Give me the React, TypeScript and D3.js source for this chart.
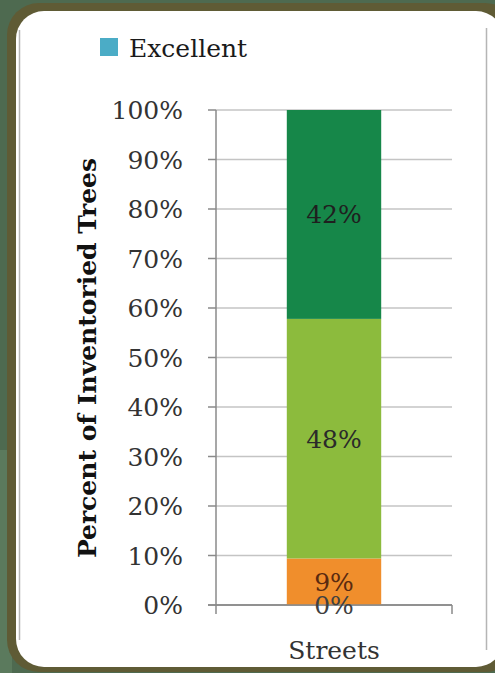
import React from "react";
import * as d3 from "d3";

const categories = ["Streets"];
const seriesNames = ["Excellent", "Poor", "Fair", "Good"];
const seriesValues = [0, 9.4, 48.4, 42.2];
const seriesLabels = ["0%", "9%", "48%", "42%"];
const seriesColors = ["#4bacc6", "#f08e2c", "#8cbb3d", "#168749"];
const labelColors = ["#404040", "#5a2a10", "#2a2a2a", "#1f1f1f"];
const yTicks = [0, 10, 20, 30, 40, 50, 60, 70, 80, 90, 100];

const W = 495;
const H = 673;
const FONT = "'DejaVu Serif', 'Liberation Serif', serif";
const FS = 25;

export default function App() {
  const plotLeft = 216;
  const plotRight = 452;
  const y = d3.scaleLinear().domain([0, 100]).range([605, 110]);
  const x = d3.scaleBand().domain(categories).range([plotLeft, plotRight]).paddingInner(0.6).paddingOuter(0.3);

  let acc = 0;
  const stacks = seriesValues.map((v, i) => {
    const y0 = acc;
    acc += v;
    return { name: seriesNames[i], y0, y1: acc, v, label: seriesLabels[i], color: seriesColors[i], lc: labelColors[i] };
  });

  const bx = x(categories[0])!;
  const bw = x.bandwidth();

  return (
    <svg width={W} height={H} style={{ position: "absolute", left: 0, top: 0 }} xmlns="http://www.w3.org/2000/svg">
      <rect x={0} y={0} width={W} height={H} fill="#4e6a50" />
      <rect x={0} y={450} width={12} height={H - 450} fill="#5b7a5d" />
      <rect x={7} y={3} width={510} height={669} rx={32} fill="#5f5b35" />
      <rect x={16} y={11} width={488} height={656} rx={28} fill="#ffffff" />
      <line x1={19.5} x2={19.5} y1={30} y2={640} stroke="#b5b5b5" strokeWidth={1.5} />
      <line x1={486.5} x2={486.5} y1={28} y2={650} stroke="#b5b5b5" strokeWidth={1.5} />

      {/* legend */}
      <rect x={100} y={38} width={18} height={18} fill={seriesColors[0]} />
      <text x={129} y={57} fontFamily={FONT} fontSize={FS} fill="#1a1a1a">{seriesNames[0]}</text>

      {/* gridlines */}
      {yTicks.map((t) => (
        <line key={"g" + t} x1={plotLeft} x2={plotRight} y1={y(t)} y2={y(t)} stroke={t === 0 ? "#8a8a8a" : "#c4c4c4"} strokeWidth={1.5} />
      ))}

      {/* bars */}
      {stacks.map((s) => (
        <rect key={s.name} x={bx} width={bw} y={y(s.y1)} height={y(s.y0) - y(s.y1)} fill={s.color} />
      ))}

      {/* y axis */}
      <line x1={plotLeft} x2={plotLeft} y1={y(100)} y2={y(0) + 9} stroke="#8a8a8a" strokeWidth={1.5} />
      {yTicks.map((t) => (
        <g key={"t" + t}>
          <line x1={plotLeft - 8} x2={plotLeft} y1={y(t)} y2={y(t)} stroke="#8a8a8a" strokeWidth={1.5} />
          <text x={183} y={y(t) + 9} textAnchor="end" fontFamily={FONT} fontSize={FS} fill="#333">{t + "%"}</text>
        </g>
      ))}
      <line x1={plotLeft - 8} x2={plotRight} y1={y(0)} y2={y(0)} stroke="#8a8a8a" strokeWidth={1.5} />
      <line x1={plotRight} x2={plotRight} y1={y(0)} y2={y(0) + 9} stroke="#8a8a8a" strokeWidth={1.5} />

      {/* bar labels */}
      {stacks.map((s) => (
        <text key={"l" + s.name} x={bx + bw / 2} y={(y(s.y0) + y(s.y1)) / 2 + 9} textAnchor="middle" fontFamily={FONT} fontSize={FS} fill={s.lc}>
          {s.label}
        </text>
      ))}

      {/* x label */}
      <text x={bx + bw / 2} y={659} textAnchor="middle" fontFamily={FONT} fontSize={FS} fill="#333">{categories[0]}</text>

      {/* y title */}
      <text transform={`translate(96,${358}) rotate(-90)`} textAnchor="middle" fontFamily={FONT} fontSize={FS} fontWeight="bold" fill="#111">
        Percent of Inventoried Trees
      </text>
    </svg>
  );
}
